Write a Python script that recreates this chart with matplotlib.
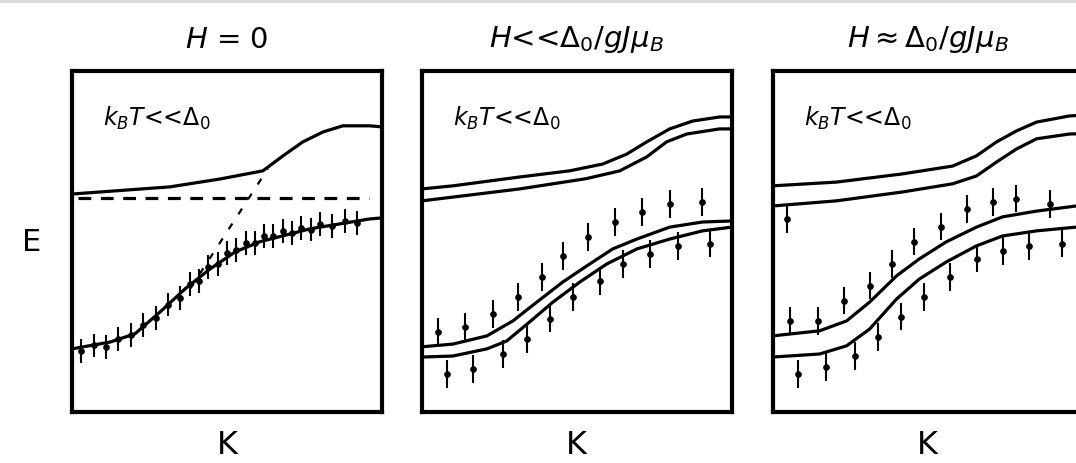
import numpy as np
import matplotlib.pyplot as plt

plt.rcParams['mathtext.fontset'] = 'dejavusans'
plt.rcParams['font.family'] = ['DejaVu Sans']

# ---- panel 1 : H = 0 ----
p1_up_x = [0, 3.16, 4.77, 6.16, 6.81, 7.45, 8.1, 8.74, 9.61, 10]
p1_up_y = [6.39, 6.6, 6.83, 7.07, 7.51, 7.92, 8.21, 8.39, 8.39, 8.36]
p1_low_x = [0, 1.23, 2.03, 2.84, 3.65, 4.45, 5.26, 6.06, 7.68, 9.61, 10]
p1_low_y = [1.85, 2.05, 2.29, 2.93, 3.61, 4.19, 4.69, 4.99, 5.37, 5.66, 5.69]
p1_flat_x = [0.2, 9.6]
p1_flat_y = [6.28, 6.28]
p1_diag_x = [3.81, 6.32]
p1_diag_y = [3.61, 7.13]
p1_pts_x = [0.3, 0.7, 1.1, 1.5, 1.9, 2.3, 2.7, 3.1, 3.5, 3.8, 4.1, 4.4, 4.7, 5.0,
            5.3, 5.6, 5.9, 6.2, 6.5, 6.8, 7.1, 7.4, 7.7, 8.0, 8.4, 8.8, 9.2]
p1_pts_y = [1.8, 1.95, 1.9, 2.15, 2.25, 2.55, 2.75, 3.15, 3.35, 3.75, 3.85, 4.25, 4.35, 4.65,
            4.75, 4.95, 4.95, 5.15, 5.15, 5.3, 5.25, 5.4, 5.35, 5.5, 5.45, 5.6, 5.55]

# ---- panel 2 : H << D0/gJuB ----
p2_up1_x = [0, 1.0, 3.16, 4.77, 5.84, 6.61, 7.26, 8.0, 8.74, 9.61, 10]
p2_up1_y = [6.54, 6.63, 6.89, 7.07, 7.27, 7.56, 7.92, 8.3, 8.53, 8.65, 8.65]
p2_up2_x = [0, 1.0, 3.16, 5.3, 6.39, 7.26, 7.9, 8.55, 9.61, 10]
p2_up2_y = [6.19, 6.3, 6.54, 6.84, 7.07, 7.48, 7.92, 8.15, 8.30, 8.30]
p2_lo1_x = [0, 1.0, 2.1, 2.94, 3.71, 4.55, 5.32, 6.16, 6.94, 8.0, 9.06, 10]
p2_lo1_y = [1.91, 1.99, 2.23, 2.67, 3.22, 3.81, 4.28, 4.78, 5.07, 5.42, 5.57, 5.6]
p2_lo2_x = [0, 1.0, 2.1, 2.74, 3.48, 4.23, 5.1, 5.97, 6.94, 8.0, 9.06, 10]
p2_lo2_y = [1.61, 1.64, 1.85, 2.08, 2.64, 3.22, 3.81, 4.34, 4.78, 5.07, 5.31, 5.42]
p2_pts_x = [0.52, 1.39, 2.29, 3.10, 3.87, 4.55, 5.35, 6.23, 7.10, 8.0, 9.03,
            0.81, 1.65, 2.61, 3.39, 4.13, 4.87, 5.74, 6.48, 7.35, 8.26, 9.29]
p2_pts_y = [2.35, 2.49, 2.87, 3.37, 3.96, 4.57, 5.13, 5.57, 5.86, 6.1, 6.16,
            1.11, 1.26, 1.70, 2.14, 2.73, 3.37, 3.84, 4.34, 4.63, 4.87, 4.93]

# ---- panel 3 : H ~ D0/gJuB ----
p3_up1_x = [0, 2.06, 4.19, 5.81, 6.58, 7.23, 7.87, 8.52, 9.58, 10]
p3_up1_y = [6.63, 6.74, 6.98, 7.21, 7.51, 7.92, 8.24, 8.50, 8.68, 8.70]
p3_up2_x = [0, 2.06, 4.19, 5.81, 6.58, 7.23, 7.87, 8.52, 9.58, 10]
p3_up2_y = [6.04, 6.19, 6.45, 6.69, 6.92, 7.33, 7.71, 8.01, 8.15, 8.16]
p3_lo1_x = [0, 1.52, 2.39, 3.13, 4.0, 4.74, 5.61, 6.58, 7.42, 8.52, 9.8, 10]
p3_lo1_y = [2.23, 2.38, 2.67, 3.22, 3.99, 4.49, 4.99, 5.42, 5.72, 5.89, 6.04, 6.05]
p3_lo2_x = [0, 1.52, 2.39, 3.13, 4.0, 4.74, 5.61, 6.58, 7.42, 8.52, 9.8, 10]
p3_lo2_y = [1.61, 1.70, 1.94, 2.43, 3.31, 3.90, 4.40, 4.87, 5.16, 5.31, 5.42, 5.43]
p3_pts_x = [0.55, 1.45, 2.32, 3.13, 3.87, 4.58, 5.45, 6.26, 7.10, 7.87, 8.94,
            0.81, 1.74, 2.65, 3.39, 4.16, 4.90, 5.71, 6.61, 7.42, 8.29, 9.35, 0.45]
p3_pts_y = [2.67, 2.67, 3.26, 3.70, 4.34, 4.99, 5.43, 5.95, 6.16, 6.25, 6.10,
            1.11, 1.32, 1.64, 2.20, 2.79, 3.37, 3.96, 4.49, 4.72, 4.87, 4.93, 5.66]

titles = [r'$H$ = 0', r'$H$<<$\Delta_0$/$gJ\mu_B$', r'$H$$\approx$$\Delta_0$/$gJ\mu_B$']
inner_label = r'$k_BT$<<$\Delta_0$'

fig = plt.figure(figsize=(10.76, 4.64), dpi=100)
fig.add_artist(plt.Rectangle((0, 1 - 4 / 464), 1, 4 / 464,
                             transform=fig.transFigure, color='#dddddd', lw=0))
lefts = [0.0669, 0.392, 0.718]
axes = [fig.add_axes([l, 0.110, 0.288, 0.735]) for l in lefts]

for ax, t in zip(axes, titles):
    ax.set_xlim(0, 10)
    ax.set_ylim(0, 10)
    ax.set_xticks([])
    ax.set_yticks([])
    for s in ax.spines.values():
        s.set_linewidth(3)
    ax.text(0.5, 1.095, t, transform=ax.transAxes, fontsize=21,
            ha='center', va='center')
    ax.text(0.5, -0.095, 'K', transform=ax.transAxes, fontsize=23,
            ha='center', va='center')
    ax.text(0.1, 0.865, inner_label, transform=ax.transAxes, fontsize=17, va='center')

lw = 2.3
eb = dict(fmt='o', ms=3.8, color='k', ecolor='k', elinewidth=1.5, capsize=0)

ax = axes[0]
fig.text(32 / 1076, 1 - 243 / 464, 'E', fontsize=22, ha='center', va='center')
ax.plot(p1_up_x, p1_up_y, 'k-', lw=lw)
ax.plot(p1_low_x, p1_low_y, 'k-', lw=lw)
ax.plot(p1_flat_x, p1_flat_y, 'k--', lw=lw, dashes=(4, 3))
ax.plot(p1_diag_x, p1_diag_y, 'k--', lw=1.6, dashes=(3, 5))
ax.errorbar(p1_pts_x, p1_pts_y, yerr=0.35, **eb)

ax = axes[1]
for xs, ys in [(p2_up1_x, p2_up1_y), (p2_up2_x, p2_up2_y),
               (p2_lo1_x, p2_lo1_y), (p2_lo2_x, p2_lo2_y)]:
    ax.plot(xs, ys, 'k-', lw=lw)
ax.errorbar(p2_pts_x, p2_pts_y, yerr=0.4, **eb)

ax = axes[2]
for xs, ys in [(p3_up1_x, p3_up1_y), (p3_up2_x, p3_up2_y),
               (p3_lo1_x, p3_lo1_y), (p3_lo2_x, p3_lo2_y)]:
    ax.plot(xs, ys, 'k-', lw=lw)
ax.errorbar(p3_pts_x, p3_pts_y, yerr=0.4, **eb)

fig.savefig('out.png', dpi=100)
